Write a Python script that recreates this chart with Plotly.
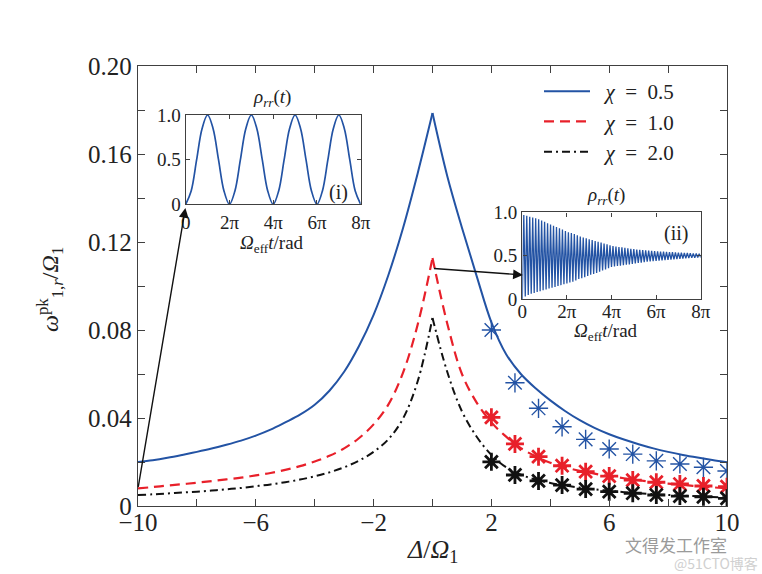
import numpy as np
import plotly.graph_objects as go

# ---------------- data ----------------
# left branch (Delta <= 0) and right branch (Delta >= 0) of each curve, step 0.5
delta_left = [-10, -9.5, -9, -8.5, -8, -7.5, -7, -6.5, -6, -5.5, -5, -4.5, -4, -3.5, -3, -2.5, -2,
              -1.5, -1, -0.5, 0]
delta_right = [0, 0.5, 1, 1.5, 2, 2.5, 3, 3.5, 4, 4.5, 5, 5.5, 6, 6.5, 7, 7.5, 8, 8.5, 9, 9.5, 10]

blue_left = [0.0200, 0.0208, 0.0219, 0.0232, 0.0246, 0.0261, 0.0278, 0.0297, 0.0320, 0.0347, 0.0380,
             0.0415, 0.0460, 0.0524, 0.0610, 0.0726, 0.0869, 0.1049, 0.1264, 0.1514, 0.1786]
blue_right = [0.1786, 0.1500, 0.1265, 0.1045, 0.0835, 0.0690, 0.0600, 0.0535, 0.0480, 0.0432, 0.0390,
              0.0355, 0.0326, 0.0302, 0.0281, 0.0262, 0.0246, 0.0232, 0.0220, 0.0209, 0.0199]
red_left = [0.0080, 0.0086, 0.0093, 0.0099, 0.0106, 0.0113, 0.0121, 0.0129, 0.0139, 0.0150, 0.0164,
            0.0181, 0.0202, 0.0228, 0.0262, 0.0308, 0.0371, 0.0461, 0.0606, 0.0826, 0.1127]
red_right = [0.1127, 0.0830, 0.0600, 0.0470, 0.0380, 0.0315, 0.0263, 0.0226, 0.0197, 0.0176, 0.0160,
             0.0147, 0.0136, 0.0126, 0.0117, 0.0109, 0.0102, 0.0096, 0.0090, 0.0085, 0.0080]
black_left = [0.0050, 0.0053, 0.0057, 0.0061, 0.0065, 0.0070, 0.0076, 0.0082, 0.0090, 0.0098, 0.0108,
              0.0120, 0.0135, 0.0153, 0.0176, 0.0206, 0.0246, 0.0303, 0.0398, 0.0568, 0.0855]
black_right = [0.0855, 0.0610, 0.0430, 0.0315, 0.0232, 0.0176, 0.0142, 0.0120, 0.0105, 0.0093, 0.0084,
               0.0076, 0.0069, 0.0063, 0.0058, 0.0054, 0.0050, 0.0047, 0.0044, 0.0041, 0.0038]

star_x = [2, 2.8, 3.6, 4.4, 5.2, 6, 6.8, 7.6, 8.4, 9.2, 10]
blue_star = [0.080, 0.056, 0.0444, 0.036, 0.0303, 0.0259, 0.0236, 0.0205, 0.0191, 0.0176, 0.0159]
red_star = [0.0403, 0.0282, 0.0224, 0.0183, 0.0156, 0.0136, 0.0118, 0.0108, 0.0100, 0.0091, 0.0088]
black_star = [0.0201, 0.0141, 0.0114, 0.0095, 0.0077, 0.0065, 0.0058, 0.005, 0.0045, 0.0042, 0.0035]

series_names = ["\u2002<i>χ</i>\u2002=\u20020.5", "\u2002<i>χ</i>\u2002=\u20021.0",
                "\u2002<i>χ</i>\u2002=\u20022.0"]

x_ticks = [-10, -8, -6, -4, -2, 0, 2, 4, 6, 8, 10]
x_ticktext = ["−10", "", "−6", "", "−2", "", "2", "", "6", "", "10"]
y_ticks = [0, 0.02, 0.04, 0.06, 0.08, 0.10, 0.12, 0.14, 0.16, 0.18, 0.20]
y_ticktext = ["0", "", "0.04", "", "0.08", "", "0.12", "", "0.16", "", "0.20"]

# inset (i): rho_rr(t) sampled every pi/4 over 0..8pi
inset1_rho = [0, 0.15, 0.5, 0.85, 1.0, 0.85, 0.5, 0.15,
              0, 0.15, 0.5, 0.85, 1.0, 0.85, 0.5, 0.15,
              0, 0.15, 0.5, 0.85, 1.0, 0.85, 0.5, 0.15,
              0, 0.15, 0.5, 0.85, 1.0, 0.85, 0.5, 0.15, 0]

# inset (ii): trough and peak values of the fast oscillation (60 cycles over 0..8pi)
inset2_low = [0.0, 0.03, 0.045, 0.06, 0.07, 0.08, 0.09, 0.10, 0.11, 0.12, 0.13, 0.14, 0.15, 0.16, 0.17, 0.18,
              0.19, 0.20, 0.215, 0.23, 0.24, 0.25, 0.265, 0.28, 0.29, 0.30, 0.315, 0.33, 0.34, 0.355, 0.37,
              0.375, 0.38, 0.385, 0.39, 0.395, 0.40, 0.405, 0.41, 0.415, 0.42, 0.425, 0.43, 0.433, 0.437, 0.44,
              0.443, 0.446, 0.449, 0.452, 0.455, 0.458, 0.461, 0.464, 0.467, 0.47, 0.472, 0.474, 0.476, 0.478, 0.48]
inset2_high = [0.97, 0.96, 0.95, 0.94, 0.93, 0.92, 0.905, 0.89, 0.875, 0.86, 0.845, 0.83, 0.815, 0.80, 0.785,
               0.77, 0.76, 0.75, 0.735, 0.72, 0.71, 0.70, 0.69, 0.68, 0.67, 0.66, 0.65, 0.64, 0.63, 0.62,
               0.61, 0.605, 0.60, 0.595, 0.59, 0.585, 0.58, 0.575, 0.57, 0.567, 0.564, 0.561, 0.558, 0.555,
               0.552, 0.55, 0.548, 0.546, 0.544, 0.542, 0.54, 0.538, 0.536, 0.534, 0.532, 0.53, 0.528,
               0.526, 0.524, 0.522]

inset_xticks = [0, 2 * np.pi, 4 * np.pi, 6 * np.pi, 8 * np.pi]
inset_xticktext = ["0", "2π", "4π", "6π", "8π"]
inset_yticks = [0, 0.5, 1.0]
inset_yticktext = ["0", "0.5", "1.0"]

# ---------------- styling ----------------
BLUE = "#2353a4"
RED = "#e8202a"
BLACK = "#111111"
AX = "#404040"
FONT = "Liberation Serif"

fig = go.Figure()

line_styles = [
    dict(color=BLUE, width=2),
    dict(color=RED, width=2.2, dash="10px,6px"),
    dict(color=BLACK, width=2, dash="8px,4px,2px,4px"),
]
branches = [(blue_left, blue_right), (red_left, red_right), (black_left, black_right)]
for i, (yl, yr) in enumerate(branches):
    fig.add_trace(go.Scatter(x=delta_left, y=yl, mode="lines", name=series_names[i],
                             legendgroup=f"g{i}", line=line_styles[i], line_shape="spline"))
    fig.add_trace(go.Scatter(x=delta_right, y=yr, mode="lines", name=series_names[i],
                             legendgroup=f"g{i}", showlegend=False,
                             line=line_styles[i], line_shape="spline"))

fig.add_trace(go.Scatter(x=star_x, y=blue_star, mode="markers", showlegend=False,
                         marker=dict(symbol="asterisk-open", size=16, color=BLUE,
                                     line=dict(color=BLUE, width=1.4))))
fig.add_trace(go.Scatter(x=star_x, y=red_star, mode="markers", showlegend=False,
                         marker=dict(symbol="asterisk-open", size=15, color=RED,
                                     line=dict(color=RED, width=2.8))))
fig.add_trace(go.Scatter(x=star_x, y=black_star, mode="markers", showlegend=False,
                         marker=dict(symbol="asterisk-open", size=15, color=BLACK,
                                     line=dict(color=BLACK, width=2.8))))

# inset (i)
t1 = np.linspace(0, 8 * np.pi, len(inset1_rho))
fig.add_trace(go.Scatter(x=t1, y=inset1_rho, mode="lines", showlegend=False,
                         line=dict(color=BLUE, width=1.7), line_shape="spline",
                         xaxis="x2", yaxis="y2"))

# inset (ii)
n_cyc = len(inset2_high)
t_low = np.linspace(0, 8 * np.pi, len(inset2_low))
t_high = t_low[:-1] + (t_low[1] - t_low[0]) / 2
t2, r2 = [], []
for k in range(n_cyc):
    t2 += [t_low[k], t_high[k]]
    r2 += [inset2_low[k], inset2_high[k]]
t2.append(t_low[-1])
r2.append(inset2_low[-1])
fig.add_trace(go.Scatter(x=t2, y=r2, mode="lines", showlegend=False,
                         line=dict(color=BLUE, width=1.3),
                         xaxis="x3", yaxis="y3"))

axis_common = dict(showline=True, linecolor=AX, linewidth=1.4, mirror="ticks",
                   ticks="inside", tickcolor=AX, tickwidth=1.3, showgrid=False,
                   zeroline=False, automargin=False)

# pixel geometry
W, H = 762, 574
L, R, T, B = 138, 35, 66, 68
pw, ph = W - L - R, H - T - B


def px(xp):
    return (xp - L) / pw


def py(yp):
    return (H - B - yp) / ph


fig.update_layout(
    width=W, height=H,
    margin=dict(l=L, r=R, t=T, b=B, autoexpand=False),
    paper_bgcolor="white", plot_bgcolor="white",
    font=dict(family=FONT, color="#222", size=20),
    xaxis=dict(range=[-10, 10], tickvals=x_ticks, ticktext=x_ticktext, ticklen=7,
               tickfont=dict(size=25), ticklabelstandoff=-6, **axis_common),
    yaxis=dict(range=[0, 0.2], tickvals=y_ticks, ticktext=y_ticktext, ticklen=7,
               tickfont=dict(size=25), **axis_common),
    xaxis2=dict(domain=[px(185.7), px(360.7)], anchor="y2", range=[0, 8 * np.pi],
                tickvals=inset_xticks, ticktext=inset_xticktext, ticklen=4,
                tickfont=dict(size=19), ticklabelstandoff=1, **axis_common),
    yaxis2=dict(domain=[py(204.3), py(115)], anchor="x2", range=[0, 1.0],
                tickvals=inset_yticks, ticktext=inset_yticktext, ticklen=4,
                tickfont=dict(size=19), **axis_common),
    xaxis3=dict(domain=[px(522.3), px(700.7)], anchor="y3", range=[0, 8 * np.pi],
                tickvals=inset_xticks, ticktext=inset_xticktext, ticklen=4,
                tickfont=dict(size=19), ticklabelstandoff=-5, **axis_common),
    yaxis3=dict(domain=[py(299), py(212.3)], anchor="x3", range=[0, 1.0],
                tickvals=inset_yticks, ticktext=inset_yticktext, ticklen=4,
                tickfont=dict(size=19), **axis_common),
    legend=dict(x=px(539), y=py(71), xanchor="left", yanchor="top", itemwidth=46,
                bgcolor="rgba(0,0,0,0)", font=dict(size=21), tracegroupgap=0),
    showlegend=True,
)


def ann(text, xp, yp, size, **kw):
    d = dict(text=text, x=px(xp), y=py(yp), xref="paper", yref="paper",
             xanchor=kw.pop("xanchor", "center"), yanchor=kw.pop("yanchor", "middle"),
             showarrow=False, font=dict(size=size, family=kw.pop("family", FONT),
                                        color=kw.pop("color", "#222")))
    d.update(kw)
    return d


annotations = [
    # axis titles
    ann("<i>Δ</i>/<i>Ω</i><sub>1</sub>", 432, 551, 26),
    ann("<i>ω</i><sup>pk</sup><sub>1,<i>r</i></sub>/<i>Ω</i><sub>1</sub>", 50, 290, 24, textangle=-90),
    # inset titles and labels
    ann("<i>ρ<sub>rr</sub></i>(<i>t</i>)", 272, 112, 19, yanchor="bottom"),
    ann("<i>ρ<sub>rr</sub></i>(<i>t</i>)", 606, 210, 19, yanchor="bottom"),
    ann("<i>Ω</i><sub>eff</sub><i>t</i>/rad", 272, 244, 19),
    ann("<i>Ω</i><sub>eff</sub><i>t</i>/rad", 606, 332, 19),
    ann("(i)", 338, 192, 20),
    ann("(ii)", 676, 233, 20),
    # watermark
    ann("文得发工作室", 676, 544, 17, family="Noto Sans CJK SC", color="#9a9a9a"),
    ann("@51CTO博客", 716, 563, 14, family="Noto Sans CJK SC", color="#d0d0d0"),
    # arrows
    dict(x=-8.39, y=0.1355, ax=-10, ay=0.008, xref="x", yref="y", axref="x", ayref="y",
         showarrow=True, arrowhead=2, arrowsize=1.4, arrowwidth=1.4, arrowcolor=BLACK, text=""),
    dict(x=3.07, y=0.105, ax=0, ay=0.108, xref="x", yref="y", axref="x", ayref="y",
         showarrow=True, arrowhead=2, arrowsize=1.4, arrowwidth=1.4, arrowcolor=BLACK, text=""),
]
fig.update_layout(annotations=annotations)

fig.write_html("out.html", config={"displayModeBar": False},
               post_script="document.body.style.margin='0px';")
